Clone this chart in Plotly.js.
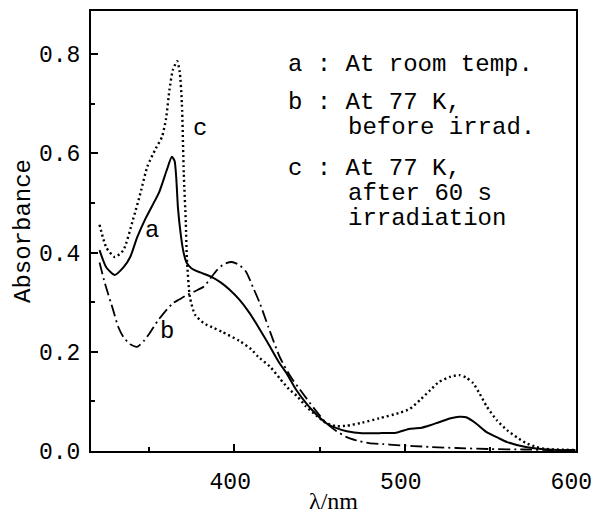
<!DOCTYPE html>
<html>
<head>
<meta charset="utf-8">
<script src="https://cdn.plot.ly/plotly-3.0.1.min.js"></script>
<style>
  html, body { margin: 0; padding: 0; background: #fff; }
  #chart { width: 594px; height: 514px; }
</style>
</head>
<body>
<div id="chart"></div>
<script>
// Curve a : At room temp. (solid)
const wlA = [321, 325, 330, 335, 339, 343, 347.6, 352, 356, 360.5, 363.4, 365, 366, 367, 368.5, 370, 372, 375, 380, 386, 392, 397, 403, 409, 415, 421, 426, 431, 436, 442, 448, 454, 460, 466, 475, 485, 495, 503, 510, 515, 520, 527, 532, 536, 542, 548, 555, 560, 571, 580, 590, 600];
const absA = [0.405, 0.37, 0.355, 0.37, 0.391, 0.43, 0.466, 0.495, 0.522, 0.567, 0.593, 0.585, 0.55, 0.49, 0.44, 0.405, 0.38, 0.368, 0.36, 0.352, 0.34, 0.326, 0.305, 0.278, 0.245, 0.21, 0.18, 0.155, 0.125, 0.097, 0.074, 0.056, 0.046, 0.04, 0.036, 0.036, 0.037, 0.045, 0.047, 0.052, 0.058, 0.066, 0.069, 0.068, 0.055, 0.038, 0.026, 0.018, 0.008, 0.004, 0.002, 0.001];

// Curve b : At 77 K, before irrad. (dash-dot)
const wlB = [321, 324, 329, 332, 335, 339, 343, 347, 350.5, 355, 358, 364, 368, 372, 377, 382, 386, 390, 394, 398.5, 403, 407, 411, 415, 420, 426.6, 433, 440, 447, 454, 460, 466, 473, 479, 487, 495, 505, 516, 530, 550, 570, 585, 600];
const absB = [0.38, 0.34, 0.284, 0.25, 0.23, 0.215, 0.21, 0.222, 0.238, 0.262, 0.275, 0.298, 0.306, 0.314, 0.322, 0.331, 0.348, 0.365, 0.377, 0.381, 0.375, 0.361, 0.33, 0.298, 0.25, 0.19, 0.15, 0.117, 0.085, 0.056, 0.04, 0.028, 0.02, 0.016, 0.014, 0.012, 0.01, 0.008, 0.006, 0.004, 0.003, 0.002, 0.002];

// Curve c : At 77 K, after 60 s irradiation (dotted)
const wlC = [321, 325, 330, 335, 340.6, 345, 349, 354, 357.6, 360, 362, 364, 366.5, 368, 369.3, 370.4, 371.6, 372.2, 374, 377, 382, 388, 393, 403, 410, 414, 421, 427, 432, 437, 442, 448, 454, 460, 466, 475, 485, 497, 503, 509, 515, 520, 527, 532, 536, 540, 544, 548, 554, 560, 566, 571, 577, 583, 590, 600];
const absC = [0.456, 0.41, 0.391, 0.405, 0.466, 0.52, 0.573, 0.61, 0.633, 0.67, 0.728, 0.768, 0.786, 0.765, 0.70, 0.56, 0.46, 0.39, 0.31, 0.275, 0.258, 0.248, 0.24, 0.222, 0.205, 0.19, 0.17, 0.145, 0.125, 0.11, 0.09, 0.072, 0.056, 0.05, 0.051, 0.057, 0.066, 0.077, 0.085, 0.103, 0.123, 0.139, 0.15, 0.153, 0.148, 0.137, 0.115, 0.09, 0.062, 0.042, 0.027, 0.016, 0.008, 0.004, 0.003, 0.002];

// Curve labels
const curveLabels = ['a', 'b', 'c'];
const curveLabelX = [351.7, 360.5, 379.8];
const curveLabelY = [0.444, 0.24, 0.651];

// Legend text lines
const legendLines = ['a : At room temp.', 'b : At 77 K,', '    before irrad.', 'c : At 77 K,', '    after 60 s', '    irradiation'];
const legendLineY = [0.878, 0.792, 0.735, 0.642, 0.585, 0.528];

// Axis ticks
const xTickVals = [400, 500, 600];
const yTickVals = [0.0, 0.2, 0.4, 0.6, 0.8];

const mono = 'Liberation Mono, Courier New, monospace';

const traces = [
  {x: wlA, y: absA, mode: 'lines', name: 'a', line: {color: '#000', width: 2, shape: 'spline', smoothing: 0.6}},
  {x: wlB, y: absB, mode: 'lines', name: 'b', line: {color: '#000', width: 1.8, dash: '12px,4px,2px,4px', shape: 'spline', smoothing: 0.6}},
  {x: wlC, y: absC, mode: 'lines', name: 'c', line: {color: '#000', width: 2.4, dash: '2px,3px', shape: 'spline', smoothing: 0.6}}
];

const annotations = [];
for (let i = 0; i < curveLabels.length; i++) {
  annotations.push({x: curveLabelX[i], y: curveLabelY[i], xref: 'x', yref: 'y', text: curveLabels[i], showarrow: false,
    font: {family: mono, size: 24, color: '#000'}, xanchor: 'center', yanchor: 'middle'});
}
for (let i = 0; i < legendLines.length; i++) {
  const t = legendLines[i];
  const lead = t.length - t.trimStart().length;
  annotations.push({x: 0.403 + lead * 0.0305, y: legendLineY[i], xref: 'paper', yref: 'paper', text: t.trimStart(), showarrow: false,
    font: {family: mono, size: 24, color: '#000'}, xanchor: 'left', yanchor: 'middle'});
}

const layout = {
  width: 594, height: 514,
  margin: {l: 91, r: 18, t: 11, b: 63},
  paper_bgcolor: '#fff', plot_bgcolor: '#fff',
  showlegend: false,
  xaxis: {
    range: [316, 600.4], tickmode: 'array', tickvals: xTickVals, ticktext: xTickVals.map(String),
    showgrid: false, zeroline: false,
    showline: true, mirror: true, linecolor: '#000', linewidth: 2,
    ticks: 'inside', ticklen: 7, tickwidth: 2, tickcolor: '#000',
    minor: {ticks: 'inside', ticklen: 4, tickwidth: 2, tickvals: [350, 450, 550], tickcolor: '#000', showgrid: false},
    tickfont: {family: mono, size: 23, color: '#000'},
    ticklabelstandoff: 8,
    ticklabelshift: -4,
    ticklabeloverflow: 'allow',
    title: {text: 'λ/nm', font: {family: 'Liberation Serif, Times New Roman, serif', size: 24, color: '#000'}, standoff: 4}
  },
  yaxis: {
    range: [0, 0.887], tickmode: 'array', tickvals: yTickVals, ticktext: yTickVals.map(v => v.toFixed(1)),
    showgrid: false, zeroline: false,
    showline: true, mirror: true, linecolor: '#000', linewidth: 2,
    ticks: 'inside', ticklen: 7, tickwidth: 2, tickcolor: '#000',
    minor: {ticks: 'inside', ticklen: 4, tickwidth: 2, tickvals: [0.1, 0.3, 0.5, 0.7], tickcolor: '#000', showgrid: false},
    tickfont: {family: mono, size: 23, color: '#000'},
    ticklabelstandoff: 4,
    title: {text: 'Absorbance', font: {family: mono, size: 24, color: '#000'}, standoff: 2}
  },
  annotations: annotations
};

Plotly.newPlot('chart', traces, layout, {displayModeBar: false, staticPlot: true});
</script>
</body>
</html>
